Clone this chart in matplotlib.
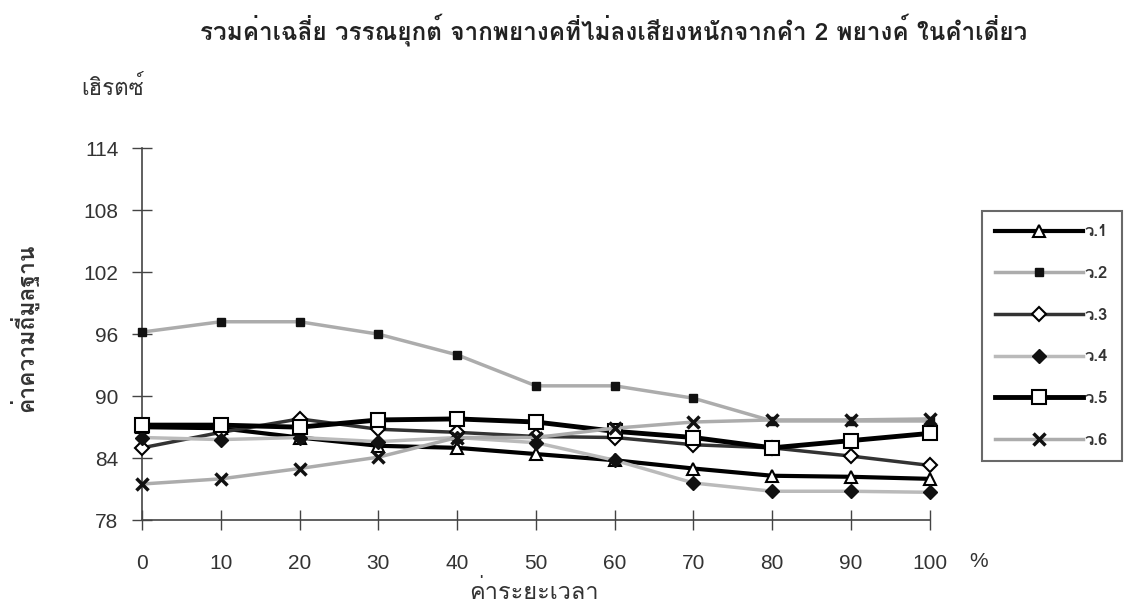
"""Average F0 of tones, unstressed syllables of two-syllable words (Thai chart)."""

import matplotlib
matplotlib.use("Agg")
import matplotlib.pyplot as plt
from matplotlib import font_manager
from matplotlib.ft2font import FT2Font

# --- data -------------------------------------------------------------------
time_pct = [0, 10, 20, 30, 40, 50, 60, 70, 80, 90, 100]
tone_labels = ["ว.1", "ว.2", "ว.3", "ว.4", "ว.5", "ว.6"]
tone1 = [87.0, 86.9, 86.0, 85.2, 85.0, 84.4, 83.8, 83.0, 82.3, 82.2, 82.0]
tone2 = [96.2, 97.2, 97.2, 96.0, 94.0, 91.0, 91.0, 89.8, 87.6, 87.6, 87.6]
tone3 = [85.0, 86.5, 87.8, 86.8, 86.5, 86.1, 86.0, 85.3, 85.0, 84.2, 83.3]
tone4 = [86.0, 85.8, 86.0, 85.6, 86.0, 85.5, 83.8, 81.6, 80.8, 80.8, 80.7]
tone5 = [87.2, 87.2, 87.0, 87.7, 87.8, 87.5, 86.6, 86.0, 85.0, 85.7, 86.4]
tone6 = [81.5, 82.0, 83.0, 84.1, 86.0, 86.0, 86.9, 87.5, 87.7, 87.7, 87.8]
y_ticks = [78, 84, 90, 96, 102, 108, 114]

title = "รวมค่าเฉลี่ย วรรณยุกต์ จากพยางคที่ไม่ลงเสียงหนักจากคำ 2 พยางค์ ในคำเดี่ยว"
y_unit = "เฮิรตซ์"
y_label = "ค่าความถี่มูลฐาน"
x_label = "ค่าระยะเวลา"


def _thai_family() -> str:
    """First installed font that actually has Thai glyphs."""
    seen = set()
    for f in font_manager.fontManager.ttflist:
        if f.name in seen:
            continue
        seen.add(f.name)
        try:
            if FT2Font(f.fname).get_char_index(ord("ก")):
                return f.name
        except Exception:
            continue
    return "DejaVu Sans"


thai = _thai_family()
plt.rcParams["font.family"] = [thai, "DejaVu Sans"]
num_font = ["Liberation Sans", "DejaVu Sans"]

fig = plt.figure(figsize=(11.36, 6.12), dpi=100)
ax = fig.add_axes([0.125, 0.150, 0.6935, 0.608])

styles = [
    dict(color="black", lw=3.0, marker="^", ms=8, mfc="white", mec="black", mew=1.5),
    dict(color="#acacac", lw=2.5, marker="s", ms=6, mfc="#111111", mec="#111111"),
    dict(color="#333333", lw=2.5, marker="D", ms=7, mfc="white", mec="black", mew=1.5),
    dict(color="#bababa", lw=2.5, marker="D", ms=7, mfc="#111111", mec="#111111"),
    dict(color="black", lw=3.5, marker="s", ms=10, mfc="white", mec="black", mew=1.5),
    dict(color="#acacac", lw=2.5, marker="x", ms=9, mec="#111111", mew=2.5),
]
series = [tone1, tone2, tone3, tone4, tone5, tone6]

for vals, lab, st in zip(series, tone_labels, styles):
    ax.plot(time_pct, vals, label=lab, clip_on=False, zorder=3, **st)

ax.set_xlim(0, 100)
ax.set_ylim(78, 114)
ax.set_xticks(time_pct)
ax.set_yticks(y_ticks)
ax.tick_params(direction="inout", length=14, width=1.0, color="#444444",
               labelsize=15, labelcolor="#333333")
ax.tick_params(axis="y", pad=10)
ax.tick_params(axis="x", pad=17)
for lbl in ax.get_xticklabels() + ax.get_yticklabels():
    lbl.set_family(num_font)
for side in ("top", "right"):
    ax.spines[side].set_visible(False)
for side in ("left", "bottom"):
    ax.spines[side].set_color("#444444")
    ax.spines[side].set_linewidth(1.2)

fig.text(0.540, 0.952, title, ha="center", va="center", fontsize=17.5,
         fontweight="bold", color="#222222")
fig.text(0.099, 0.857, y_unit, ha="center", va="center", fontsize=16, color="#333333")
fig.text(0.021, 0.464, y_label, ha="center", va="center", rotation=90,
         fontsize=16.5, fontweight="bold", color="#333333")
fig.text(0.470, 0.033, x_label, ha="center", va="center", fontsize=17, color="#333333")
fig.text(0.861, 0.083, "%", ha="center", va="center", fontsize=15,
         family=num_font, color="#333333")

leg = fig.legend(loc="upper left", bbox_to_anchor=(0.864, 0.655),
                 frameon=True, fancybox=False, edgecolor="#444444",
                 fontsize=12, handlelength=5.3, handletextpad=0.1,
                 labelspacing=1.6, borderpad=0.8, borderaxespad=0.0)
leg.get_frame().set_linewidth(1.5)
for t in leg.get_texts():
    t.set_fontweight("bold")
    t.set_color("#333333")

fig.savefig("out.png", dpi=100)
